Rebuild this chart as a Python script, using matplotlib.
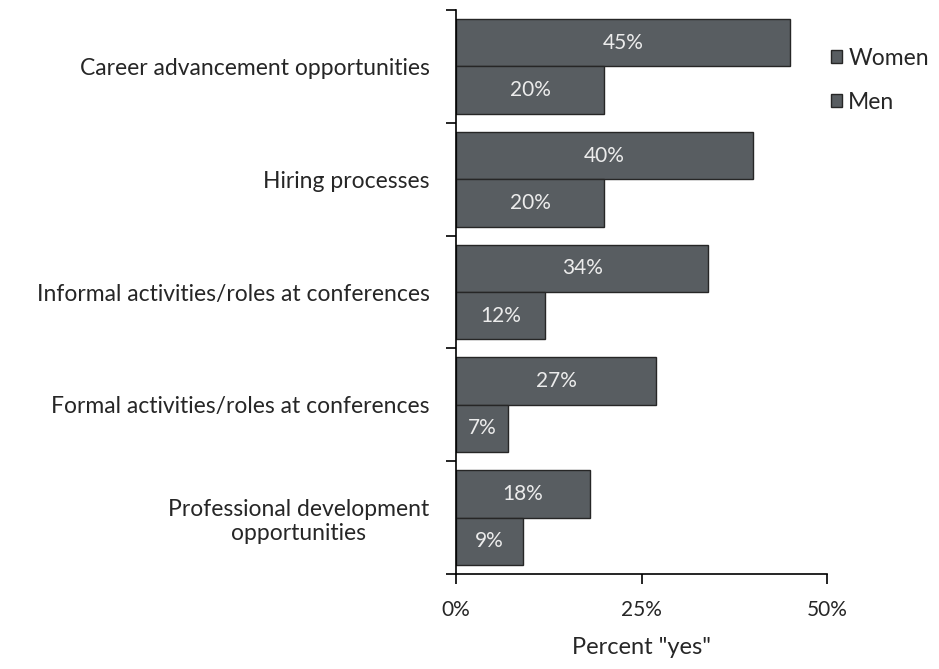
import matplotlib
matplotlib.use("Agg")
import matplotlib.pyplot as plt
import numpy as np

plt.rcParams['font.family'] = ['Lato', 'DejaVu Sans']

categories = [
    "Career advancement opportunities",
    "Hiring processes",
    "Informal activities/roles at conferences",
    "Formal activities/roles at conferences",
    "Professional development\nopportunities",
]
women = [45, 40, 34, 27, 18]
men = [20, 20, 12, 7, 9]
xticks = [0, 25, 50]
xtick_labels = ["0%", "25%", "50%"]

bar_color = "#585d61"
edge_color = "#262626"
label_color = "#ececec"
text_color = "#262626"

fig = plt.figure(figsize=(9.39, 6.69), dpi=100)
W, H = 939, 669
ax = fig.add_axes([456 / W, 1 - 574 / H, (827 - 456) / W, (574 - 10) / H])

n = len(categories)
centers = np.arange(n)[::-1] + 0.5  # top category at the top
h = 0.42
w_y = centers + h / 2
m_y = centers - h / 2

ax.barh(w_y, women, height=h, color=bar_color, edgecolor=edge_color, linewidth=1.0, label="Women")
ax.barh(m_y, men, height=h, color=bar_color, edgecolor=edge_color, linewidth=1.0, label="Men")

for y, v in zip(w_y, women):
    ax.text(v / 2, y, f"{v}%", ha="center", va="center", color=label_color, fontsize=15)
for y, v in zip(m_y, men):
    ax.text(v / 2, y, f"{v}%", ha="center", va="center", color=label_color, fontsize=15)

ax.set_xlim(0, 50)
ax.set_ylim(0, n)
ax.set_xticks(xticks)
ax.set_xticklabels(xtick_labels, fontsize=15, color=text_color)
ax.set_yticks(np.arange(n + 1))
ax.set_yticklabels([])
ax.set_yticks(centers, minor=True)
ax.set_yticklabels(categories, minor=True, fontsize=16.5, color=text_color)
ax.tick_params(axis="y", which="major", length=7, width=1.2, direction="out")
ax.tick_params(axis="x", length=7, width=1.2, direction="out", pad=12)

# right-align labels but keep multi-line text centered
for lbl in ax.get_yticklabels(minor=True):
    lbl.set_horizontalalignment("right")
    lbl.set_multialignment("center")
ax.tick_params(axis="y", which="minor", length=0, pad=19)

for s in ["top", "right"]:
    ax.spines[s].set_visible(False)
ax.spines["left"].set_linewidth(1.2)
ax.spines["bottom"].set_linewidth(1.2)

ax.set_xlabel('Percent "yes"', fontsize=17, color=text_color, labelpad=12)

leg = fig.legend(loc="upper left", bbox_to_anchor=(831 / W, 1 - 48 / H), frameon=False,
                 fontsize=16.5, handlelength=0.5, handleheight=0.5, handletextpad=0.25,
                 labelspacing=1.0, borderpad=0, borderaxespad=0, labelcolor=text_color)

fig.savefig("out.png", dpi=100, facecolor="white")
